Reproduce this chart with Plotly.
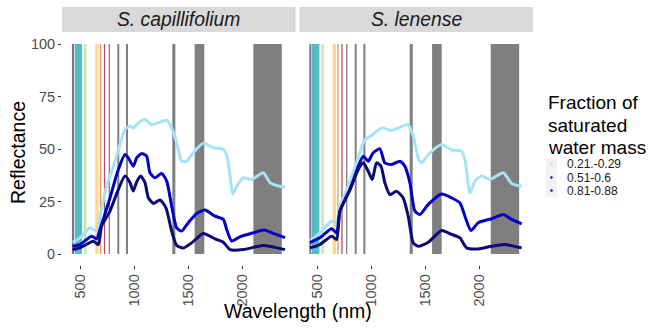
import plotly.graph_objects as go

W, H = 648, 328

species = ["S. capillifolium", "S. lenense"]
fractions = ["0.21.-0.29", "0.51-0.6", "0.81-0.88"]
series_colors = ["#A5E2F7", "#0000C8", "#0A0A78"]

# band edges (nm) and colours
band_lo = [423, 448, 534, 639, 682, 719, 763, 843, 923, 1352, 1559, 2102]
band_hi = [442, 516, 559, 670, 694, 731, 775, 861, 942, 1380, 1648, 2365]
band_col = ["#7E6BB0", "#56BDBD", "#C4EDB7", "#F8D98D", "#E99660", "#B34F73",
            "#7F7F7F", "#7F7F7F", "#7F7F7F", "#7F7F7F", "#7F7F7F", "#7F7F7F"]

# panel 1 : S. capillifolium
p1_light_wl = [429, 497, 590, 652, 683, 744, 837, 914, 960, 991, 1037, 1099, 1161, 1238, 1300, 1346,
               1392, 1438, 1485, 1546, 1639, 1731, 1824, 1855, 1886, 1911, 1948, 2009, 2086, 2194,
               2256, 2318, 2395]
p1_light = [5.6, 7.7, 12.5, 10.9, 18, 32.3, 46.6, 59.3, 60.9, 60, 62.4, 64, 61.6, 62.8, 63.7, 60.2,
            53, 44.2, 44.2, 48.2, 52.7, 50.6, 49.8, 47.4, 37.2, 28.4, 32.3, 36.3, 35.5, 38.7,
            34, 32.6, 31.8]
p1_mid_wl = [429, 497, 605, 652, 683, 775, 852, 914, 945, 991, 1022, 1068, 1114, 1145, 1191, 1253,
             1300, 1346, 1392, 1438, 1500, 1577, 1654, 1747, 1824, 1855, 1901, 1978, 2102, 2200,
             2287, 2395]
p1_mid = [3.7, 4.5, 8.5, 7.2, 11.7, 26.7, 40.2, 47.4, 45.8, 41.8, 45.8, 47.8, 46.6, 38.7, 36.3, 38.4,
          34.7, 22.8, 12.5, 10.9, 14.9, 19.3, 20.9, 18, 16.5, 11.7, 6.2, 8.2, 10.1, 11.4,
          9.8, 7.8]
p1_dark_wl = [429, 497, 621, 667, 698, 775, 852, 914, 960, 991, 1022, 1059, 1099, 1130, 1176, 1238,
              1293, 1346, 1392, 1454, 1531, 1639, 1747, 1824, 1886, 2009, 2194, 2395]
p1_dark = [2.1, 2.9, 6.1, 4.5, 13.3, 20.4, 30.7, 37.1, 34, 30, 34.3, 37.1, 34, 26.8, 24.1, 25.7,
           22, 10.9, 4.1, 2.9, 5.3, 9.8, 7.2, 5.6, 2.1, 2.1, 4.1, 2.1]

# panel 2 : S. lenense
p2_light_wl = [428, 520, 629, 675, 706, 783, 860, 937, 999, 1045, 1107, 1169, 1246, 1338, 1385, 1431,
               1462, 1524, 1647, 1740, 1832, 1869, 1909, 1956, 2017, 2094, 2218, 2295, 2388]
p2_light = [6.2, 10.1, 15.6, 14.8, 22.8, 32.3, 43.4, 54.5, 56.4, 58.5, 60, 58.8, 60, 61.7, 56.1, 45.8,
            43.4, 47.4, 52.2, 49.5, 49, 43.4, 29.1, 34.7, 37.1, 35.5, 38.7, 33.6, 32.3]
p2_mid_wl = [428, 520, 629, 675, 706, 799, 876, 922, 968, 1014, 1076, 1122, 1184, 1261, 1307, 1354,
             1400, 1446, 1524, 1647, 1740, 1817, 1863, 1918, 1986, 2109, 2218, 2295, 2388]
p2_mid = [5.4, 7.7, 12, 10.1, 20.4, 30.7, 41.8, 46.6, 44.2, 48.2, 50.1, 43.4, 42.6, 44.2, 41.8, 33.9,
          20.4, 18.8, 23.6, 28.6, 26.7, 24.3, 18, 11.2, 14.9, 16.8, 18.8, 16.5, 14.4]
p2_dark_wl = [428, 520, 629, 675, 706, 799, 876, 922, 968, 1005, 1045, 1086, 1122, 1169, 1230, 1292,
              1338, 1385, 1431, 1524, 1647, 1740, 1817, 1879, 1986, 2109, 2233, 2388]
p2_dark = [2.9, 4.5, 8.5, 6.9, 20.4, 30.7, 40.2, 43.4, 39.4, 35.5, 43.4, 41.8, 33.9, 28.3, 29.9, 26.7,
           18, 5.3, 3.7, 5.6, 11.2, 9.3, 7.7, 2.9, 2.4, 3.7, 4.5, 2.9]

x_ticks = [500, 1000, 1500, 2000]
y_ticks = [0, 25, 50, 75, 100]

panels = [
    [(p1_light_wl, p1_light), (p1_mid_wl, p1_mid), (p1_dark_wl, p1_dark)],
    [(p2_light_wl, p2_light), (p2_mid_wl, p2_mid), (p2_dark_wl, p2_dark)],
]

FONT = "Liberation Sans"

fig = go.Figure()

x_dom = [[62 / W, 295.6 / W], [299.4 / W, 533 / W]]
y_dom = [1 - 264.5 / H, 1 - 33.5 / H]
x_range = [331, 2493]

shapes = []
annotations = []
for pi, series in enumerate(panels):
    xa = "x" if pi == 0 else "x2"
    ya = "y" if pi == 0 else "y2"
    for lo, hi, c in zip(band_lo, band_hi, band_col):
        shapes.append(dict(type="rect", xref=xa, yref=ya, x0=lo, x1=hi, y0=0, y1=100,
                           fillcolor=c, line=dict(width=0), layer="below"))
    for (wl, val), col in zip(series, series_colors):
        fig.add_trace(go.Scatter(x=wl, y=val, mode="lines", xaxis=xa, yaxis=ya,
                                 line=dict(color=col, width=3, shape="spline", smoothing=0.6),
                                 showlegend=False, hoverinfo="skip"))
    # strip
    x0, x1 = x_dom[pi]
    shapes.append(dict(type="rect", xref="paper", yref="paper", x0=x0, x1=x1,
                       y0=1 - 32 / H, y1=1 - 7 / H, fillcolor="#D9D9D9", line=dict(width=0)))
    annotations.append(dict(xref="paper", yref="paper", x=(x0 + x1) / 2, y=1 - 19.5 / H,
                            text="<i>%s</i>" % species[pi], showarrow=False,
                            font=dict(size=19.3, color="#1A1A1A", family=FONT),
                            xanchor="center", yanchor="middle"))

tickfont = dict(size=14.5, color="#4D4D4D", family=FONT)
axis_common = dict(range=x_range, tickvals=x_ticks, ticks="outside", ticklen=3, tickwidth=1,
                   tickcolor="#333333", tickangle=-90, showgrid=False, zeroline=False,
                   showline=False, tickfont=tickfont)
yaxis_common = dict(range=[-5, 105], domain=y_dom, showgrid=False, zeroline=False, showline=False)

fig.update_layout(
    width=W, height=H, margin=dict(l=0, r=0, t=0, b=0),
    paper_bgcolor="white", plot_bgcolor="white",
    xaxis=dict(domain=x_dom[0], anchor="y", **axis_common),
    xaxis2=dict(domain=x_dom[1], anchor="y2", **axis_common),
    yaxis=dict(anchor="x", tickvals=y_ticks, ticks="outside", ticklen=3, tickcolor="#333333",
               tickfont=tickfont, **yaxis_common),
    yaxis2=dict(anchor="x2", showticklabels=False, ticks="", **yaxis_common),
)

# axis titles
annotations.append(dict(xref="paper", yref="paper", x=298 / W, y=1 - 311 / H,
                        text="Wavelength (nm)", showarrow=False,
                        font=dict(size=19.5, color="#000000", family=FONT),
                        xanchor="center", yanchor="middle"))
annotations.append(dict(xref="paper", yref="paper", x=18 / W, y=1 - 153 / H,
                        text="Reflectance", showarrow=False, textangle=-90,
                        font=dict(size=19.5, color="#000000", family=FONT),
                        xanchor="center", yanchor="middle"))

# legend
for i, line in enumerate(["Fraction of", "saturated", "water mass"]):
    annotations.append(dict(xref="paper", yref="paper", x=546 / W, y=1 - (103 + 22 * i) / H,
                            text=line, showarrow=False,
                            font=dict(size=19, color="#000000", family=FONT),
                            xanchor="left", yanchor="middle"))
for i, (lab, col) in enumerate(zip(fractions, series_colors)):
    yc = 164.5 + 13 * i
    shapes.append(dict(type="rect", xref="paper", yref="paper", x0=546 / W, x1=557 / W,
                       y0=1 - (yc + 6.5) / H, y1=1 - (yc - 6.5) / H, fillcolor="#F2F2F2",
                       line=dict(width=0)))
    shapes.append(dict(type="circle", xref="paper", yref="paper", x0=550.3 / W, x1=552.7 / W,
                       y0=1 - (yc + 1.2) / H, y1=1 - (yc - 1.2) / H, fillcolor=col,
                       line=dict(width=0)))
    annotations.append(dict(xref="paper", yref="paper", x=566 / W, y=1 - yc / H,
                            text=lab, showarrow=False, borderpad=0,
                            font=dict(size=12, color="#1A1A1A", family=FONT),
                            xanchor="left", yanchor="middle"))

fig.update_layout(shapes=shapes, annotations=annotations)
fig.write_html("out.html")
